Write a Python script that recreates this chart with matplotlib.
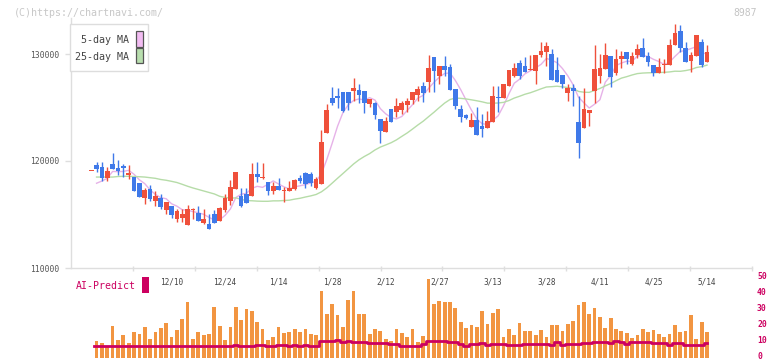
import numpy as np
import pandas as pd
import matplotlib
matplotlib.use("Agg")
import matplotlib.pyplot as plt
from matplotlib.patches import Rectangle
from matplotlib.transforms import ScaledTranslation

# ---------------- data ----------------
start_date = "2024-11-19"
end_date = "2025-05-14"
jp_holidays = ["2024-12-31", "2025-01-01", "2025-01-02", "2025-01-03", "2025-01-13",
               "2025-02-11", "2025-02-24", "2025-03-20", "2025-04-29", "2025-05-05", "2025-05-06"]

tick_labels = ["12/10", "12/24", "1/14", "1/28", "2/12", "2/27", "3/13", "3/28", "4/11", "4/25", "5/14"]
price_ticks = [110000, 120000, 130000]
vol_ticks = [0, 10, 20, 30, 40, 50]

opens = [119140, 119630, 119440, 118440, 119720, 119370, 119560, 118720, 118530, 117940,
         116510, 117410, 116290, 116570, 115420, 115790, 114610, 114670, 114020, 115480,
         115140, 114230, 114110, 115080, 114420, 115450, 116290, 117410, 116730, 116920,
         116760, 118790, 118450, 118010, 117220, 117660, 117200, 117220, 117380, 118440,
         118880, 118760, 117500, 117850, 122650, 125860, 126080, 126480, 126420, 126570,
         126640, 126540, 125360, 125450, 123950, 122710, 124860, 124610, 124810, 125230,
         125700, 126170, 127010, 127380, 129720, 127970, 128880, 128760, 126730, 124860,
         124300, 123210, 123830, 123270, 123110, 123620, 126010, 125860, 127010, 127970,
         129160, 128880, 128530, 128440, 129910, 130220, 130000, 128510, 128040, 126380,
         126850, 123650, 123110, 124510, 126570, 127940, 128600, 129810, 128250, 129510,
         130190, 129070, 129910, 130560, 129810, 128970, 128250, 128970, 128970, 130840,
         132150, 130560, 129370, 129840, 131120, 129250]
highs = [119170, 119880, 119910, 119470, 120750, 120120, 119720, 119630, 118530, 117940,
         117450, 117730, 117200, 116920, 116170, 115790, 115490, 115510, 115860, 115610,
         115790, 115510, 115020, 115420, 115670, 116890, 118220, 118970, 117500, 117500,
         119840, 119910, 119840, 118010, 118070, 118410, 117570, 118100, 118320, 118660,
         118940, 118970, 118530, 122900, 125330, 126890, 126790, 126480, 126420, 127760,
         127170, 126540, 125770, 125540, 123950, 124080, 124860, 125890, 125610, 125920,
         126480, 126980, 127410, 129910, 129720, 128880, 129810, 129070, 126730, 125210,
         124390, 124510, 125080, 124390, 124670, 127010, 127010, 127200, 128510, 129160,
         129440, 129720, 129910, 129910, 131150, 131150, 130470, 129720, 128040, 127170,
         127200, 126080, 126850, 124770, 130840, 130000, 131030, 129810, 130440, 130310,
         130190, 130220, 130940, 131500, 130220, 128970, 129600, 129510, 131400, 132800,
         132710, 131120, 130190, 131780, 131400, 130840]
lows = [119140, 119000, 118130, 118160, 119250, 118690, 118530, 118350, 117220, 116660,
        116010, 116290, 115790, 115540, 115050, 114700, 114330, 114300, 114020, 114580,
        114390, 114080, 113650, 114230, 114420, 115210, 115890, 117410, 115670, 116100,
        116760, 118070, 118320, 116850, 116890, 117320, 116200, 117220, 117320, 117920,
        117450, 117660, 117360, 117850, 122650, 125210, 124930, 124610, 124770, 125610,
        125390, 124510, 125080, 123900, 121710, 122710, 123670, 124140, 124390, 124580,
        125300, 125610, 125540, 126480, 126420, 127170, 127970, 126640, 124830, 123670,
        123970, 123210, 122460, 122270, 123110, 123620, 124580, 125860, 127010, 127850,
        127660, 128290, 128530, 127200, 129720, 128910, 127570, 127410, 126850, 125610,
        125170, 120250, 123110, 123300, 125390, 127260, 128600, 126940, 128040, 128690,
        129070, 128970, 129600, 129750, 128880, 127970, 128250, 128200, 128970, 130840,
        130160, 129280, 128290, 129840, 128810, 129250]
closes = [119170, 119250, 118380, 119070, 119250, 119070, 119370, 118880, 117220, 116660,
          117290, 116450, 116730, 115730, 116170, 114950, 115330, 115050, 115510, 115520,
          114420, 114580, 113650, 114230, 115610, 116540, 117570, 118970, 115770, 116100,
          118790, 118530, 118500, 117220, 117660, 117320, 117240, 117500, 118200, 118160,
          117880, 117970, 118320, 121780, 124770, 125450, 125890, 124670, 125450, 126820,
          126170, 125390, 125770, 124300, 122830, 123740, 123670, 125140, 125420, 125610,
          126480, 126760, 126380, 128690, 128440, 128880, 128510, 126640, 125170, 124140,
          124050, 123830, 122460, 122960, 123740, 126080, 125860, 127200, 128510, 128690,
          127970, 128350, 128630, 129910, 130280, 130750, 127570, 127410, 127220, 126850,
          126570, 121710, 124860, 124770, 128630, 128660, 129910, 127880, 129510, 129810,
          129510, 129810, 130470, 129750, 129280, 128200, 128790, 129070, 130840, 131960,
          130530, 129280, 129910, 131780, 128970, 130190]

# moving-average values before the window is filled (read from the picture;
# the earlier sessions are not shown in the chart)
ma5_lead = [np.nan, 117920, 118130, 118380]
ma25_lead = [np.nan, 118500, 118500, 118500, 118500, 118550, 118570, 118570, 118550, 118530,
             118500, 118440, 118380, 118270, 118200, 118100, 117990, 117820, 117640, 117480,
             117340, 117200, 117060, 116920]

volume = [np.nan, 10.3, 9.1, 7.2, 19.7, 10.9, 14.1, 9.1, 15.9, 14.7,
          19.1, 11.6, 15.9, 18.4, 21.6, 12.8, 17.2, 24.1, 34.7, 11.6,
          15.9, 14.1, 14.7, 31.6, 19.7, 10.9, 19.1, 31.6, 23.4, 30.3,
          29.1, 22.2, 17.8, 10.9, 12.8, 19.1, 15.3, 15.9, 17.8, 15.9,
          17.8, 14.7, 14.1, 41.6, 27.2, 33.4, 26.6, 19.1, 35.9, 41.6,
          27.2, 27.2, 14.7, 17.8, 16.6, 11.6, 10.3, 17.8, 15.3, 12.8,
          17.8, 9.7, 13.4, 49.1, 33.4, 35.3, 34.7, 34.7, 30.9, 22.2,
          18.4, 20.3, 19.1, 29.1, 20.9, 27.8, 30.3, 12.8, 17.8, 14.1,
          21.6, 16.6, 16.6, 14.1, 17.2, 12.8, 20.3, 20.3, 16.6, 20.9,
          22.8, 32.8, 34.7, 27.2, 30.9, 25.3, 18.4, 24.7, 17.8, 16.6,
          15.3, 12.2, 14.1, 17.8, 15.9, 17.2, 14.7, 12.8, 14.7, 20.3,
          15.9, 16.6, 26.6, 11.6, 22.2, 15.9]
ai_predict = [np.nan] + [7.0] * 26 + [
    7.6, 7.0, 7.0, 7.0, 7.6, 7.6, 7.0, 7.0, 7.6, 7.6,
    7.2, 7.6, 7.0, 7.6, 7.0, 7.0, 10.5, 10.5, 10.5, 10.9,
    9.9, 10.3, 9.7, 9.7, 9.7, 8.9, 8.9, 8.9, 8.9, 8.2,
    8.2, 7.0, 7.0, 7.0, 7.0, 8.5, 10.5, 10.3, 10.3, 10.3,
    9.9, 9.5, 8.5, 7.2, 8.2, 8.2, 8.9, 7.9, 8.2, 8.2,
    8.2, 7.6, 7.6, 7.6, 8.2, 8.2, 8.2, 8.2, 8.2, 7.6,
    9.5, 7.9, 8.2, 8.2, 8.2, 8.9, 8.9, 9.7, 9.7, 9.7,
    8.9, 10.3, 9.5, 8.5, 9.5, 9.5, 9.5, 9.5, 8.9, 8.9,
    8.9, 7.9, 8.9, 8.9, 7.9, 7.9, 7.9, 7.9, 8.9]

# ---------------- derived ----------------
days = pd.bdate_range(start_date, end_date)
days = days[~days.isin(pd.to_datetime(jp_holidays))]
date_str = [f"{d.month}/{d.day}" for d in days]
n = len(closes)
idx = np.arange(n)

O = np.array(opens, float); Hh = np.array(highs, float)
L = np.array(lows, float); C = np.array(closes, float)
ma5 = pd.Series(C).rolling(5).mean().to_numpy()
ma5[:len(ma5_lead)] = ma5_lead
ma25 = pd.Series(C).rolling(25).mean().to_numpy()
ma25[:len(ma25_lead)] = ma25_lead

# ---------------- style ----------------
RED = "#ef503b"
BLUE = "#3f79e9"
PINK = "#e6b2e8"
GREEN = "#b6dca8"
ORANGE = "#f29541"
CRIMSON = "#cc0060"
AXIS = "#dedede"
MONO = "DejaVu Sans Mono"

W, H = 772, 361
fig = plt.figure(figsize=(W / 100, H / 100), dpi=100)


def fx(x):
    return x / W


def fy(y):
    return 1 - y / H


X0, X1 = 71, 752
MAIN_TOP, MAIN_BOT, VOL_BOT = 18, 268, 357.5
STEP, FIRST = 5.355, 91.2
PX_PER_PRICE = 107 / 10000
PX_PER_VOL = 1.6

ax = fig.add_axes([fx(X0), fy(MAIN_BOT), (X1 - X0) / W, (MAIN_BOT - MAIN_TOP) / H])
ax2 = fig.add_axes([fx(X0), fy(VOL_BOT), (X1 - X0) / W, (VOL_BOT - MAIN_BOT) / H])
ax.set_zorder(2)
ax2.set_zorder(1)

xlim = ((X0 - FIRST) / STEP, (X1 - FIRST) / STEP)
for a in (ax, ax2):
    a.set_xlim(*xlim)
    a.patch.set_visible(False)
ax.set_ylim(110000, 110000 + (MAIN_BOT - MAIN_TOP) / PX_PER_PRICE)
ax2.set_ylim(0, (VOL_BOT - MAIN_BOT) / PX_PER_VOL)

# candles
up = C >= O
cols = np.where(up, RED, BLUE)
ax.vlines(idx, L, Hh, colors=cols, lw=1.0, zorder=3)
body = np.abs(C - O)
min_body = 90
bh = np.maximum(body, min_body)
bb = np.minimum(O, C) - (bh - body) / 2
ax.bar(idx, bh, 0.88, bottom=bb, color=cols, linewidth=0, zorder=4)

# moving averages
ax.plot(idx, ma5, color=PINK, lw=1.0, zorder=2)
ax.plot(idx, ma25, color=GREEN, lw=1.0, zorder=2)

# axes styling (main)
for s in ("top", "right"):
    ax.spines[s].set_visible(False)
for s in ("left", "bottom"):
    ax.spines[s].set_color(AXIS)
    ax.spines[s].set_linewidth(1.0)
span = xlim[1] - xlim[0]
ax.set_xticks([xlim[0] + k * span / 11 for k in range(1, 12)])
ax.tick_params(axis="x", direction="inout", length=3.6, width=1.0, color=AXIS, labelbottom=False)
ax.set_yticks(price_ticks)
ax.set_yticklabels([str(v) for v in price_ticks], fontfamily=MONO)
ax.tick_params(axis="y", direction="out", length=4.3, width=1.0, color=AXIS,
               labelsize=5.8, labelcolor="#555555", pad=4.3)

# volume panel
for s in ax2.spines.values():
    s.set_visible(False)
ax2.set_xticks([])
ax2.yaxis.tick_right()
ax2.set_yticks(vol_ticks)
ax2.set_yticklabels([str(v) for v in vol_ticks], fontfamily=MONO, fontweight="bold")
ax2.tick_params(axis="y", length=0, pad=3.6, labelsize=5.8, labelcolor=CRIMSON)
lift = ScaledTranslation(0, 2.0 / 100, fig.dpi_scale_trans)
for t in ax2.get_yticklabels():
    t.set_transform(t.get_transform() + lift)

label_y = (VOL_BOT - 282) / PX_PER_VOL
for lab in tick_labels:
    i = date_str.index(lab)
    ax2.text(i, label_y, lab, ha="center", va="center", fontsize=5.6,
             color="#444444", family=MONO, zorder=1)
ax2.bar(idx, volume, 0.7, color=ORANGE, linewidth=0, zorder=2)
ax2.plot(idx, ai_predict, color=CRIMSON, lw=2.0, zorder=3, drawstyle="steps-mid")

# legend box
fig.add_artist(Rectangle((fx(70), fy(71)), 78 / W, 47 / H, transform=fig.transFigure,
                         facecolor="white", edgecolor="#dddddd", lw=1.0, zorder=10))
fig.text(fx(129), fy(40), "5-day MA", ha="right", va="center", fontsize=7.2,
         color="#444444", family=MONO, zorder=11)
fig.text(fx(129), fy(57), "25-day MA", ha="right", va="center", fontsize=7.2,
         color="#444444", family=MONO, zorder=11)
fig.add_artist(Rectangle((fx(136.3), fy(46.5)), 6.3 / W, 15 / H, transform=fig.transFigure,
                         facecolor="#f2bcf2", edgecolor="#555555", lw=0.9, zorder=11))
fig.add_artist(Rectangle((fx(136.3), fy(63.3)), 6.3 / W, 15 / H, transform=fig.transFigure,
                         facecolor="#b8deae", edgecolor="#555555", lw=0.9, zorder=11))

# header texts
fig.text(fx(14), fy(13), "(C)https://chartnavi.com/", ha="left", va="center",
         fontsize=7.2, color="#c8c8c8", family=MONO)
fig.text(fx(757), fy(13), "8987", ha="right", va="center", fontsize=7.0,
         color="#c4c4c4", family=MONO)

# AI-Predict caption
fig.text(fx(76), fy(286), "AI-Predict", ha="left", va="center", fontsize=7.1,
         color=CRIMSON, family=MONO)
fig.add_artist(Rectangle((fx(142.3), fy(292.7)), 6.4 / W, 15.4 / H, transform=fig.transFigure,
                         facecolor=CRIMSON, edgecolor="none", zorder=5))

fig.savefig("out.png", dpi=100)
